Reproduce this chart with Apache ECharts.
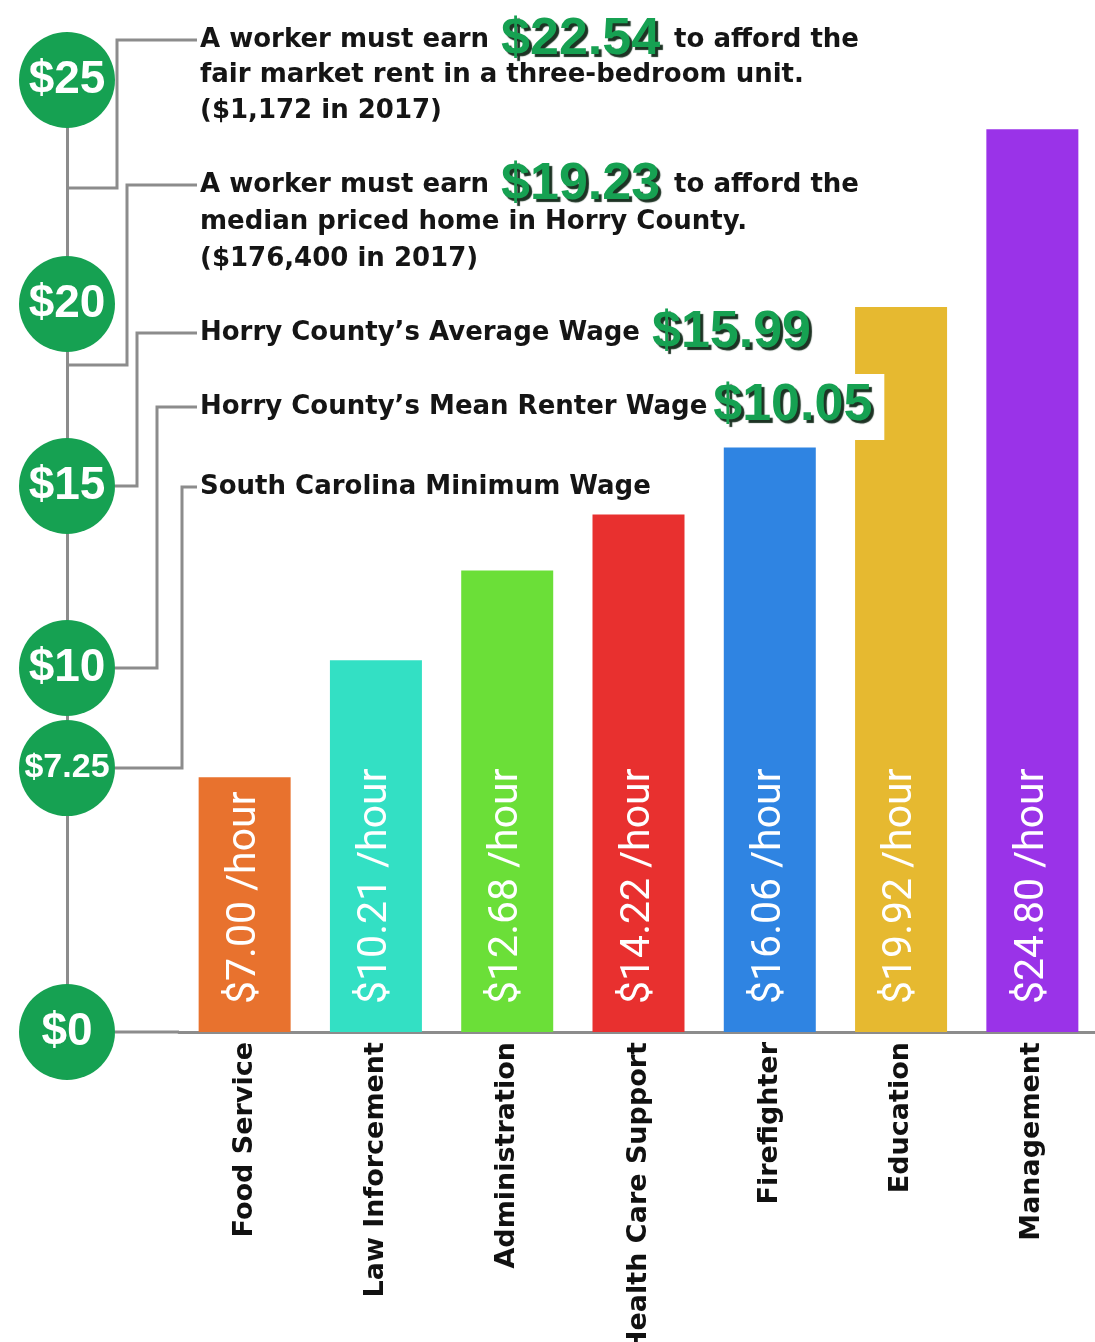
<!DOCTYPE html>
<html>
<head>
<meta charset="utf-8">
<title>Horry County hourly wages</title>
<script src="https://cdn.jsdelivr.net/npm/echarts@6.0.0/dist/echarts.min.js"></script>
<style>
  html, body { margin: 0; padding: 0; background: #fff; }
  #chart { width: 1095px; height: 1342px; }
</style>
</head>
<body>
<div id="chart"></div>
<script>
// -----------------------------------------
// DATA
// -----------------------------------------
const categories = ['Food Service', 'Law Inforcement', 'Administration', 'Health Care Support', 'Firefighter', 'Education', 'Management'];
const hourlyWages = [7.00, 10.21, 12.68, 14.22, 16.06, 19.92, 24.80];
const tickValues = [0, 7.25, 10, 15, 20, 25];

// annotation rows: [text before, big number, text after]
const noteRows = [
  ['A worker must earn', '$22.54', 'to afford the'],
  ['fair market rent in a three-bedroom unit.'],
  ['($1,172 in 2017)'],
  ['A worker must earn', '$19.23', 'to afford the'],
  ['median priced home in Horry County.'],
  ['($176,400 in 2017)'],
  ['Horry County\u2019s Average Wage', '$15.99'],
  ['Horry County\u2019s Mean Renter Wage', '$10.05'],
  ['South Carolina Minimum Wage']
];

// -----------------------------------------
// STYLE
// -----------------------------------------
const barColors = ['#e8722e', '#33e0c4', '#6bdf38', '#e8302f', '#2f84e2', '#e6b930', '#9a33e8'];
const GREEN = '#16a152';
const LINE_GRAY = '#8c8c8c';
const rowY = [40, 75, 111, 185, 222, 259, 333, 407, 487];

const chart = echarts.init(document.getElementById('chart'));

chart.setOption({
  backgroundColor: '#fff',
  animation: false,
  grid: { left: 179, top: 122, width: 919, bottom: 310, outerBoundsMode: 'none' },
  xAxis: {
    type: 'category',
    data: categories,
    axisTick: { show: false },
    axisLine: { lineStyle: { color: LINE_GRAY, width: 3 } },
    axisLabel: {
      rotate: 90,
      interval: 0,
      margin: 10,
      color: '#111',
      fontSize: 27,
      fontWeight: 'bold',
      fontFamily: 'DejaVu Sans'
    }
  },
  yAxis: {
    type: 'value',
    min: 0,
    max: 25,
    offset: 112,
    splitLine: { show: false },
    axisTick: { show: false },
    axisLine: { show: true, lineStyle: { color: LINE_GRAY, width: 3 } },
    axisLabel: {
      customValues: tickValues,
      align: 'center',
      margin: 0,
      formatter: v => {
        // top circle sits a bit higher than its value in the original
        if (v === 25) return '{c|$25}\n{g| }';
        return (String(v).length > 2 ? '{s|$' : '{c|$') + v + '}';
      },
      rich: {
        c: {
          width: 96, height: 96, lineHeight: 96, borderRadius: 48,
          backgroundColor: GREEN, color: '#fff', align: 'center',
          fontSize: 46, fontWeight: 'bold', fontFamily: 'Liberation Sans'
        },
        s: {
          width: 96, height: 96, lineHeight: 96, borderRadius: 48,
          backgroundColor: GREEN, color: '#fff', align: 'center',
          fontSize: 34, fontWeight: 'bold', fontFamily: 'Liberation Sans'
        },
        g: { height: 84, lineHeight: 84, fontSize: 10 }
      }
    }
  },
  series: [
    {
      type: 'bar',
      barWidth: 92,
      data: hourlyWages.map((v, i) => ({ value: v, itemStyle: { color: barColors[i] } })),
      label: {
        show: true,
        position: 'insideBottom',
        distance: 28,
        rotate: 90,
        align: 'left',
        verticalAlign: 'middle',
        color: '#fff',
        fontSize: 41,
        fontFamily: 'Roboto',
        formatter: p => '$' + p.value.toFixed(2) + ' /hour'
      }
    }
  ]
});

// -----------------------------------------
// ANNOTATIONS + CONNECTORS
// -----------------------------------------
const yPx = v => chart.convertToPixel({ yAxisIndex: 0 }, v);
const gridLeft = 179;

// graphic text uses zrender style names (fill, not color)
const bigNumber = {
  fontSize: 52, fontWeight: 'bold', fontFamily: 'Liberation Sans', fill: GREEN,
  textShadowColor: '#1d3324', textShadowOffsetX: 3, textShadowOffsetY: 3, textShadowBlur: 1
};
const textRich = {
  t: { fontSize: 26, fontWeight: 'bold', fontFamily: 'DejaVu Sans', fill: '#151515' },
  n: Object.assign({ padding: [0, 14, 0, 12] }, bigNumber),
  nb: Object.assign({ backgroundColor: '#fff', padding: [6, 12, 8, 6] }, bigNumber)
};

function rowText(parts) {
  let s = '{t|' + parts[0] + '}';
  if (parts[1]) s += (parts[1] === '$10.05' ? '{nb|' : '{n|') + parts[1] + '}';
  if (parts[2]) s += '{t|' + parts[2] + '}';
  return s;
}

const connectors = [
  [[67, 188], [117, 188], [117, rowY[0]], [197, rowY[0]]],
  [[67, 365], [127, 365], [127, rowY[3]], [197, rowY[3]]],
  [[115, yPx(15)], [137, yPx(15)], [137, rowY[6]], [197, rowY[6]]],
  [[115, yPx(10)], [157, yPx(10)], [157, rowY[7]], [197, rowY[7]]],
  [[115, yPx(7.25)], [182, yPx(7.25)], [182, rowY[8]], [197, rowY[8]]]
];

const graphic = [];
connectors.forEach(pts => {
  graphic.push({
    type: 'polyline',
    z: 5,
    shape: { points: pts },
    style: { stroke: LINE_GRAY, lineWidth: 3, fill: null }
  });
});

// x axis line continues left to the $0 circle
graphic.push({
  type: 'line',
  z: 5,
  shape: { x1: 115, y1: yPx(0), x2: gridLeft, y2: yPx(0) },
  style: { stroke: LINE_GRAY, lineWidth: 3 }
});

noteRows.forEach((parts, i) => {
  graphic.push({
    type: 'text',
    z: 20,
    x: 200,
    y: rowY[i],
    style: {
      text: rowText(parts),
      rich: textRich,
      align: 'left',
      verticalAlign: 'middle'
    }
  });
});

chart.setOption({ graphic: graphic });
</script>
</body>
</html>
